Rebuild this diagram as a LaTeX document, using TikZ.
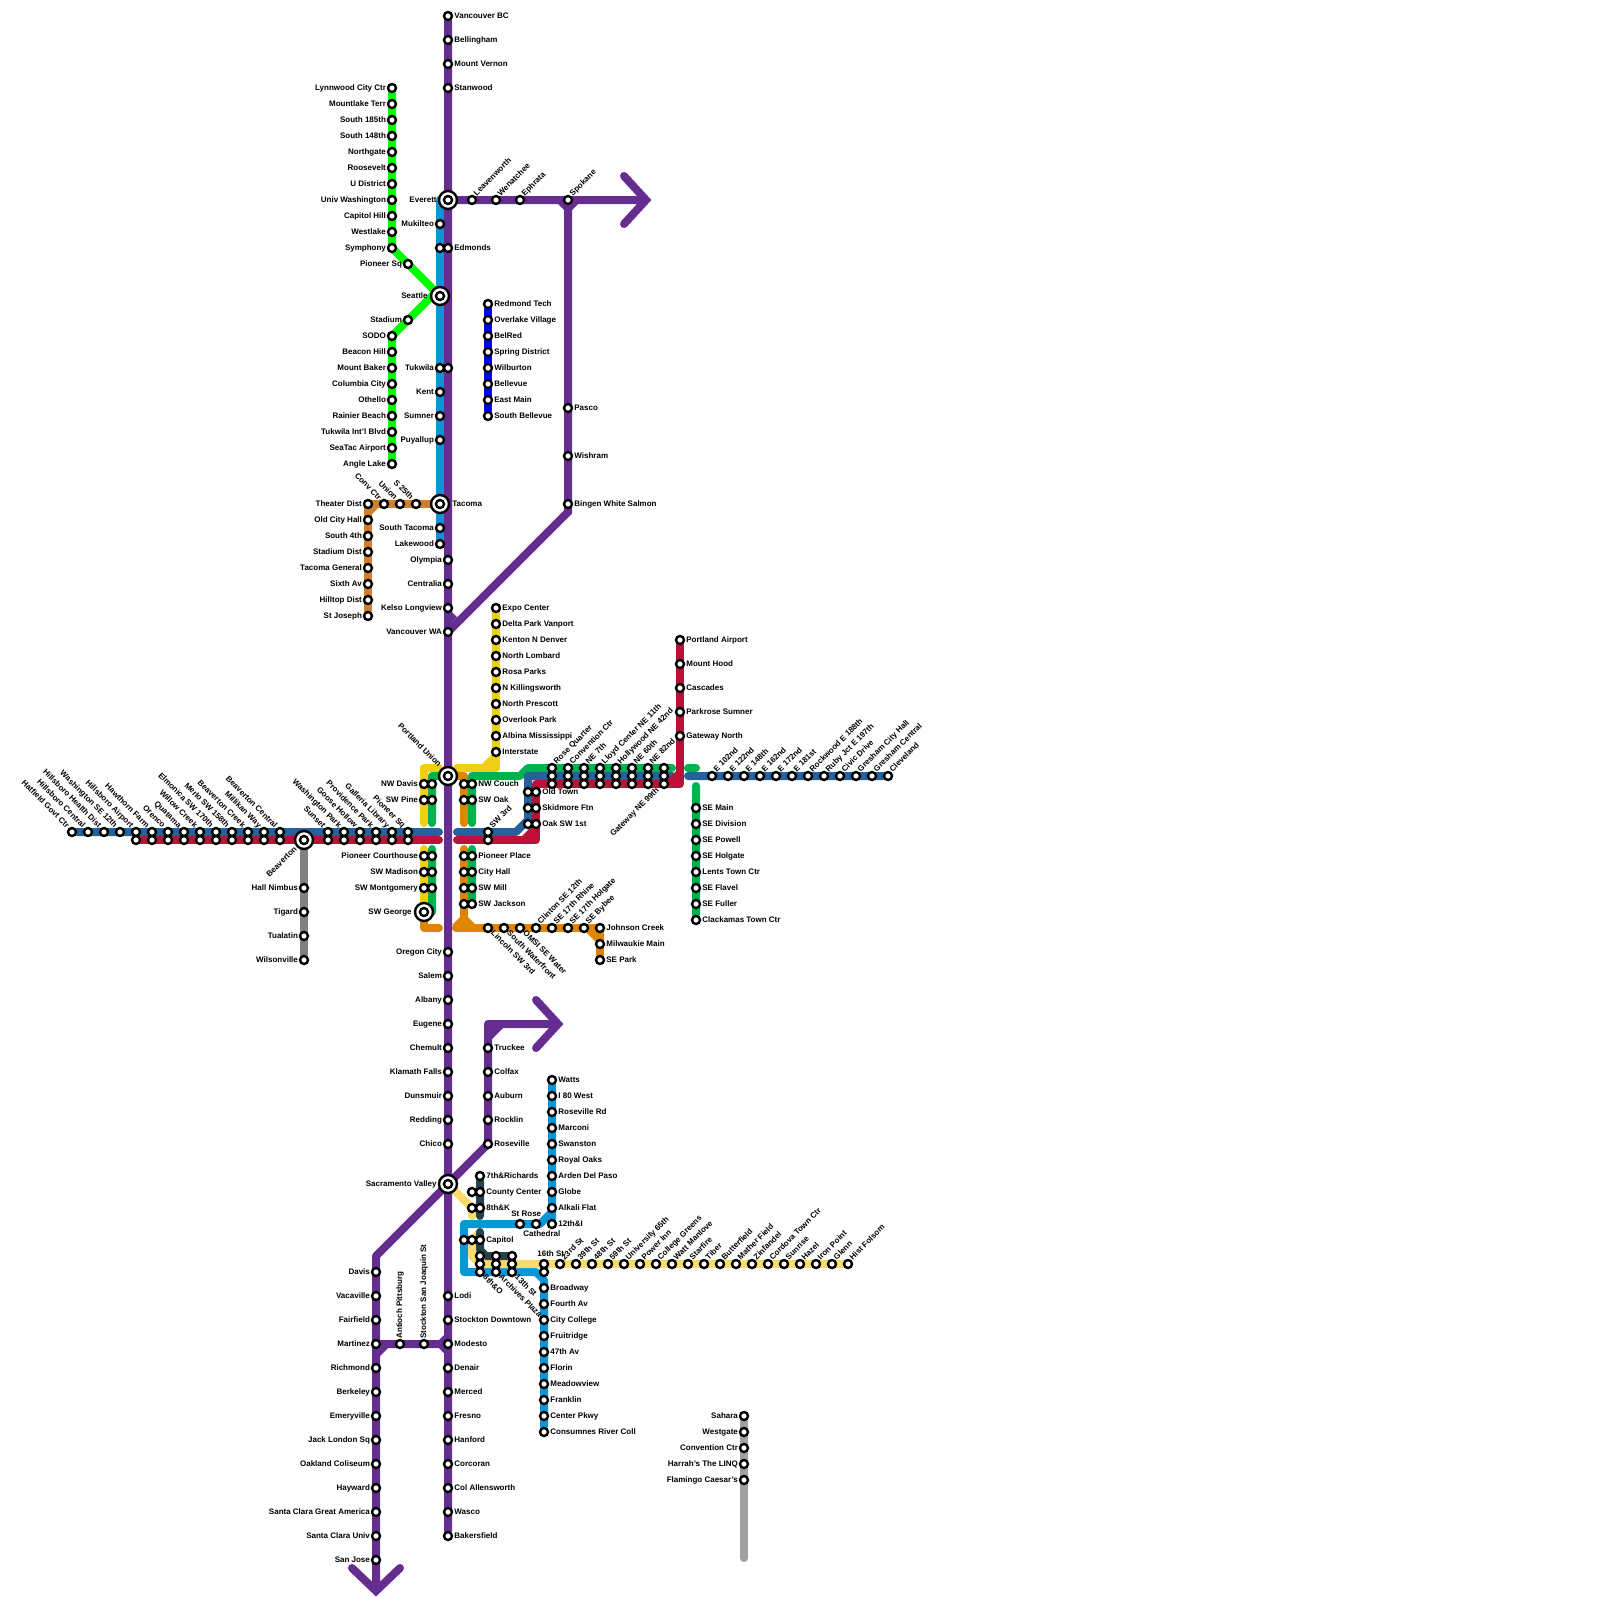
\documentclass[tikz,border=0pt]{standalone}
\usepackage{fontspec}
\setmainfont{Liberation Sans}
\usetikzlibrary{backgrounds}
\definecolor{cLime}{HTML}{00FF00}
\definecolor{cCopper}{HTML}{CD7F32}
\definecolor{cSky}{HTML}{0896D7}
\definecolor{cPurple}{HTML}{662D91}
\definecolor{cYellow}{HTML}{F0CE15}
\definecolor{cGreen}{HTML}{00B151}
\definecolor{cOrange}{HTML}{DF8600}
\definecolor{cSteel}{HTML}{26619C}
\definecolor{cRed}{HTML}{BD1038}
\definecolor{cGray}{HTML}{808080}
\definecolor{cGold}{HTML}{F9DC6E}
\definecolor{cTeal}{HTML}{26434A}
\definecolor{cSilver}{HTML}{A0A0A0}
\definecolor{cBlue}{HTML}{0000FF}
\begin{document}
\begin{tikzpicture}[x=.5pt,y=-.5pt,
	stn/.style={circle,draw=black,fill=white,line width=1.2pt,minimum size=4pt,inner sep=0pt},
	hub/.style={circle,draw=black,fill=white,line width=1.2pt,minimum size=9pt,inner sep=0pt},
	txt/.style={inner sep=0pt,font=\bfseries\fontsize{4}{4}\selectfont,text height=3pt,text depth=.8pt},
	tl/.style={txt,anchor=east},
	tr/.style={txt,anchor=west},
	tu/.style={txt,anchor=west,rotate=45},
	tn/.style={txt,anchor=east,rotate=-45},
	td/.style={txt,anchor=west,rotate=-45},
	tv/.style={txt,anchor=west,rotate=90},
	ln/.style={line width=4pt,line cap=round,line join=round}]
	\path[use as bounding box] (0,0) rectangle (1600,1600);
	\foreach \n/\x/\y in {ae/646/200,ae1/624/176,ae2/624/224,pb/568/512,cr/488/1024,at/558/1024,at1/536/1000,at2/536/1048,sw0/376/1256,swa/376/1591,swl/352/1568,swr/400/1568,lc/432/296,cs0/440/200,
		yb1/496/768,yb3/457/768,yc1/439/768,yc2/424/768,yc3/424/823,yc4/424/849,
		gc1/444/776,gc2/432/776,gc3/432/823,gc4/432/849,gc5/432/912,gc6/472/823,gc7/472/776,gc8/520/776,gc9/528/768,gc10/672/768,gc11/472/849,gc12/688/768,gc13/696/768,gc14/696/786,
		oc1/457/776,oc2/464/776,oc3/464/823,oc4/464/849,oc5/464/925,oc6/456/928,oc7/424/928,oc8/439/928,
		bw/439/832,be/457/832,bd1/516/832,bd2/528/820,bd3/528/776,bd4/672/776,bf1/688/776,
		rw/439/840,re/457/840,rd1/536/840,rd2/536/784,rd3/680/784,
		lb1/552/1212,lb2/540/1224,lb3/464/1224,lb4/464/1272,lb5/536/1272,lb6/544/1280,
		gd1/472/1208,gd2/472/1216,gd3/480/1232,gd4/472/1240,gd5/472/1256,gd6/480/1264,
		tq1/480/1216,tq2/480/1232,tq3/480/1250,tq4/486/1256,tq5/512/1256,sl/744/1558}\coordinate (\n) at (\x,\y);
	\foreach \n/\x/\y in {evt/448/200,sea/440/296,tac/440/504,pdx/448/776,bvt/304/840,geo/424/912,sac/448/1184}\path (\x,\y) node[hub](\n){} node[stn](\n c){};
	\path (evt) +(-11,0) node[tl](tevt){Everett};
	\path (sea) +(-12,0) node[tl](tsea){Seattle};
	\path (tac) +(12,0) node[tr](ttac){Tacoma};
	\path (pdx) +(-8,-10) node[tn](tpdx){Portland Union};
	\path (bvt) +(-8,8) node[txt,anchor=east,rotate=45](tbvt){Beaverton};
	\path (geo) +(-12,0) node[tl](tgeo){SW George};
	\path (sac) +(-11,0) node[tl](tsac){Sacramento Valley};
	\foreach \gt[count=\i] in {Lynnwood City Ctr,Mountlake Terr,South 185th,South 148th,Northgate,Roosevelt,U District,Univ Washington,Capitol Hill,Westlake,Symphony}\path (392,72+16*\i) node[stn](lm\i){} +(-5.7,0) node[tl](tlm\i){\gt};
	\foreach \y/\gt[count=\i] in {264/Pioneer Sq,320/Stadium}\path (408,\y) node[stn](lx\i){} +(-5.7,0) node[tl](tlx\i){\gt};
	\foreach \gt[count=\i] in {SODO,Beacon Hill,Mount Baker,Columbia City,Othello,Rainier Beach,Tukwila Int'l Blvd,SeaTac Airport,Angle Lake}\path (392,320+16*\i) node[stn](ls\i){} +(-5.7,0) node[tl](tls\i){\gt};
	\foreach \y/\gt[count=\i] in {224/Mukilteo,368/Tukwila,392/Kent,416/Sumner,440/Puyallup,528/South Tacoma,544/Lakewood}\path (440,\y) node[stn](cs\i){} +(-5.7,0) node[tl](tcs\i){\gt};
	\foreach \x/\y[count=\i] in {440/248,448/368}\path (\x,\y) node[stn](ux\i){};
	\foreach \y/\gt[count=\i] in {16/Vancouver BC,40/Bellingham,64/Mount Vernon,88/Stanwood,248/Edmonds}\path (448,\y) node[stn](pu\i){} +(6,0) node[tr](tpu\i){\gt};
	\foreach \y/\gt[count=\i] in {560/Olympia,584/Centralia,608/Kelso Longview,632/Vancouver WA,952/Oregon City,976/Salem,1000/Albany,1024/Eugene,1048/Chemult,1072/Klamath Falls,1096/Dunsmuir,1120/Redding,1144/Chico}\path (448,\y) node[stn](pv\i){} +(-5.7,0) node[tl](tpv\i){\gt};
	\foreach \gt[count=\i] in {Lodi,Stockton Downtown,Modesto,Denair,Merced,Fresno,Hanford,Corcoran,Col Allensworth,Wasco,Bakersfield}\path (448,1272+24*\i) node[stn](ps\i){} +(6,0) node[tr](tps\i){\gt};
	\foreach \x/\gt[count=\i] in {472/Leavenworth,496/Wenatchee,520/Ephrata,568/Spokane}\path (\x,200) node[stn](pe\i){} +(3,-5) node[tu](tpe\i){\gt};
	\foreach \y/\gt[count=\i] in {408/Pasco,456/Wishram,504/Bingen White Salmon}\path (568,\y) node[stn](pk\i){} +(6,0) node[tr](tpk\i){\gt};
	\foreach \gt[count=\i] in {Redmond Tech,Overlake Village,BelRed,Spring District,Wilburton,Bellevue,East Main,South Bellevue}\path (488,288+16*\i) node[stn](el\i){} +(6,0) node[tr](tel\i){\gt};
	\foreach \gt[count=\i] in {Theater Dist,Old City Hall,South 4th,Stadium Dist,Tacoma General,Sixth Av,Hilltop Dist,St Joseph}\path (368,488+16*\i) node[stn](cp\i){} +(-5.7,0) node[tl](tcp\i){\gt};
	\foreach \x/\gt[count=\i] in {384/Conv Ctr,400/Union,416/S 25th}\path (\x,504) node[stn](cq\i){} +(-4,-5) node[tn](tcq\i){\gt};
	\foreach \gt[count=\i] in {Expo Center,Delta Park Vanport,Kenton N Denver,North Lombard,Rosa Parks,N Killingsworth,North Prescott,Overlook Park,Albina Mississippi,Interstate}\path (496,592+16*\i) node[stn](yl\i){} +(6,0) node[tr](tyl\i){\gt};
	\foreach \gt[count=\i] in {Portland Airport,Mount Hood,Cascades,Parkrose Sumner,Gateway North}\path (680,616+24*\i) node[stn](ra\i){} +(6,0) node[tr](tra\i){\gt};
	\foreach \gt[count=\i] in {Hatfield Govt Ctr,Hillsboro Central,Hillsboro Health Dist,Washington SE 12th,Hillsboro Airport,Hawthorn Farm,Orenco,Quatama,Willow Creek,Elmonica SW 170th,Merlo SW 158th,Beaverton Creek,Millikan Way,Beaverton Central}\path (56+16*\i,832) node[stn](bw\i){} +(-4,-5) node[tn](tbw\i){\gt};
	\foreach \x[count=\i] in {136,152,...,280}\path (\x,840) node[stn](rw\i){};
	\foreach \gt[count=\i] in {Sunset,Washington Park,Goose Hollow,Providence Park,Galleria Library,Pioneer Sq}\path (312+16*\i,832) node[stn](bm\i){} +(-4,-5) node[tn](tbm\i){\gt} (312+16*\i,840) node[stn](rm\i){};
	\foreach \gt[count=\i] in {Hall Nimbus,Tigard,Tualatin,Wilsonville}\path (304,864+24*\i) node[stn](gy\i){} +(-5.7,0) node[tl](tgy\i){\gt};
	\foreach \y/\gt[count=\i] in {784/NW Davis,800/SW Pine,856/Pioneer Courthouse,872/SW Madison,888/SW Montgomery}\path (432,\y) node[stn](mg\i){} (424,\y) node[stn](my\i){} +(-5.7,0) node[tl](tmy\i){\gt};
	\foreach \y/\gt[count=\i] in {784/NW Couch,800/SW Oak,856/Pioneer Place,872/City Hall,888/SW Mill,904/SW Jackson}\path (464,\y) node[stn](mo\i){} (472,\y) node[stn](mr\i){} +(6,0) node[tr](tmr\i){\gt};
	\path (488,840) node[stn](thr){} (488,832) node[stn](thb){} +(3,-5) node[tu](tthb){SW 3rd};
	\foreach \y/\gt[count=\i] in {792/Old Town,808/Skidmore Ftn,824/Oak SW 1st}\path (528,\y) node[stn](ob\i){} (536,\y) node[stn](or\i){} +(6,0) node[tr](tor\i){\gt};
	\foreach \gt[count=\i] in {Rose Quarter,Convention Ctr,NE 7th,Lloyd Center NE 11th,Hollywood NE 42nd,NE 60th,NE 82nd}\path (536+16*\i,776) node[stn](nb\i){} (536+16*\i,784) node[stn](nr\i){} (536+16*\i,768) node[stn](ng\i){} +(3,-5) node[tu](tng\i){\gt};
	\path (664,776) node[stn](nb8){} (664,768) node[stn](ng8){} (664,784) node[stn](nr8){} +(-6,5) node[txt,anchor=east,rotate=45](tnr8){Gateway NE 99th};
	\foreach \gt[count=\i] in {E 102nd,E 122nd,E 148th,E 162nd,E 172nd,E 181st,Rockwood E 188th,Ruby Jct E 197th,Civic Drive,Gresham City Hall,Gresham Central,Cleveland}\path (696+16*\i,776) node[stn](ee\i){} +(3,-5) node[tu](tee\i){\gt};
	\foreach \gt[count=\i] in {SE Main,SE Division,SE Powell,SE Holgate,Lents Town Ctr,SE Flavel,SE Fuller,Clackamas Town Ctr}\path (696,792+16*\i) node[stn](se\i){} +(6,0) node[tr](tse\i){\gt};
	\foreach \gt[count=\i] in {Lincoln SW 3rd,South Waterfront,OMSI SE Water}\path (472+16*\i,928) node[stn](ow\i){} +(4,4) node[td](tow\i){\gt};
	\foreach \gt[count=\i] in {Clinton SE 12th,SE 17th Rhine,SE 17th Holgate,SE Bybee}\path (520+16*\i,928) node[stn](ox\i){} +(3,-5) node[tu](tox\i){\gt};
	\foreach \gt[count=\i] in {Johnson Creek,Milwaukie Main,SE Park}\path (600,912+16*\i) node[stn](oy\i){} +(6,0) node[tr](toy\i){\gt};
	\foreach \gt[count=\i] in {Truckee,Colfax,Auburn,Rocklin,Roseville}\path (488,1024+24*\i) node[stn](tk\i){} +(6,0) node[tr](ttk\i){\gt};
	\foreach \gt[count=\i] in {Davis,Vacaville,Fairfield,Martinez,Richmond,Berkeley,Emeryville,Jack London Sq,Oakland Coliseum,Hayward,Santa Clara Great America,Santa Clara Univ,San Jose}\path (376,1248+24*\i) node[stn](dv\i){} +(-5.7,0) node[tl](tdv\i){\gt};
	\foreach \x/\gt[count=\i] in {400/Antioch Pittsburg,424/Stockton San Joaquin St}\path (\x,1344) node[stn](ap\i){} +(0,-5) node[tv](tap\i){\gt};
	\path (480,1176) node[stn](sr1){} +(6,0) node[tr](tsr1){7th\&Richards};
	\path (472,1192) node[stn](sq2){} (480,1192) node[stn](sr2){} +(6,0) node[tr](tsr2){County Center};
	\path (472,1208) node[stn](sq3){} (480,1208) node[stn](sr3){} +(6,0) node[tr](tsr3){8th\&K};
	\path (464,1240) node[stn](cb1){} (472,1240) node[stn](cb2){} (480,1240) node[stn](cb3){} +(6,0) node[tr](tcb3){Capitol};
	\foreach \gt[count=\i] in {Watts,I 80 West,Roseville Rd,Marconi,Swanston,Royal Oaks,Arden Del Paso,Globe,Alkali Flat,12th\&I}\path (552,1064+16*\i) node[stn](wt\i){} +(6,0) node[tr](twt\i){\gt};
	\path (520,1224) node[stn](str){} +(-9,-10) node[tr](tstr){St Rose};
	\path (536,1224) node[stn](cth){} +(-13,10) node[tr](tcth){Cathedral};
	\foreach \x/\gt[count=\i] in {480/8th\&O,496/Archives Plaza,512/13th St}\path (\x,1256) node[stn](dt\i){} (\x,1264) node[stn](dg\i){} (\x,1272) node[stn](db\i){} +(4,4) node[td](tdb\i){\gt};
	\path (544,1272) node[stn](sxb){} (544,1264) node[stn](sxg){} +(-7,-10) node[tr](tsxg){16th St};
	\foreach \gt[count=\i] in {Broadway,Fourth Av,City College,Fruitridge,47th Av,Florin,Meadowview,Franklin,Center Pkwy,Consumnes River Coll}\path (544,1272+16*\i) node[stn](br\i){} +(6,0) node[tr](tbr\i){\gt};
	\foreach \gt[count=\i] in {23rd St,39th St,48th St,59th St,University 65th,Power Inn,College Greens,Watt Manlove,Starfire,Tiber,Butterfield,Mather Field,Zinfandel,Cordova Town Ctr,Sunrise,Hazel,Iron Point,Glenn,Hist Folsom}\path (544+16*\i,1264) node[stn](fo\i){} +(3,-5) node[tu](tfo\i){\gt};
	\foreach \gt[count=\i] in {Sahara,Westgate,Convention Ctr,Harrah's The LINQ,Flamingo Caesar's}\path (744,1400+16*\i) node[stn](lv\i){} +(-5.7,0) node[tl](tlv\i){\gt};
	\begin{pgfonlayer}{background}
		\draw[ln,cGray] (bvt)--(gy4);
		\draw[ln,cSilver] (lv1)--(sl);
		\draw[ln,cLime] (lm1)--(lm11.center)--(sea.center)--(lc)--(ls1.center)--(ls9);
		\draw[ln,cCopper] (tac)--(cp1.center)--(cp8);
		\fill[cCopper] (372,508)--(378,508)--(372,514)--cycle;
		\draw[ln,cSky] (cs0)--(cs7);
		\draw[ln,cBlue] (el1)--(el8);
		\draw[ln,cYellow] (yl1)--(yb1)--(yb3) (yc1)--(yc2)--(yc3) (yc4)--(geo);
		\fill[cYellow] (492,754)--(492,765)--(481,765)--cycle;
		\draw[ln,cOrange] (oc1)--(oc2)--(oc3) (oc4)--(oc5) (oc6)--(oy1.center)--(oy3) (geo)--(oc7)--(oc8);
		\fill[cOrange] (460,917)--(468,917)--(476,925)--(452,925)--cycle (586,932)--(596,932)--(596,942)--cycle;
		\draw[ln,cGreen] (gc1)--(gc2)--(gc3) (gc4)--(gc5) (gc6)--(gc7)--(gc8)--(gc9)--(gc10) (gc11)--(mr6) (gc12)--(gc13) (gc14)--(se8);
		\draw[ln,cSteel] (bw1)--(bw) (be)--(bd1)--(bd2)--(bd3)--(bd4) (bf1)--(ee12);
		\draw[ln,cRed] (rw1)--(rw) (re)--(rd1)--(rd2)--(rd3)--(ra1);
		\fill[cRed] (532,826)--(532,837)--(521,837)--cycle (676,771)--(676,781)--(666,781)--cycle;
		\draw[ln,cSky] (wt1)--(wt10) (wt9)--(lb1)--(lb2)--(lb3)--(lb4)--(lb5)--(lb6)--(br10);
		\draw[ln,cGold] (sac.center)--(gd1)--(gd2) (gd3)--(gd4)--(gd5)--(gd6)--(fo19);
		\draw[ln,cTeal] (sr1)--(tq1) (tq2)--(tq3)--(tq4)--(tq5);
		\begin{scope}[cPurple]
			\draw[ln] (pu1)--(ps11) (dv4)--(ps3) (sac.center)--(tk5.center)--(cr)--(at) (sac.center)--(sw0)--(swa);
			\draw[ln,line join=miter] (evt)--(ae) (ae1)--(ae)--(ae2) (pe4.center)--(pb)--(pv4.center) (at1)--(at)--(at2) (swl)--(swa)--(swr);
			\fill (558,204)--(578,204)--(572,210)--(564,210)--cycle (439,1340)--(444,1335)--(444,1353)--(439,1348)--cycle (380,1348)--(388,1348)--(380,1356)--cycle (452,612)--(457,617)--(452,622)--cycle (492,1028)--(503,1028)--(492,1039)--cycle;
		\end{scope}
	\end{pgfonlayer}
\end{tikzpicture}
\end{document}
